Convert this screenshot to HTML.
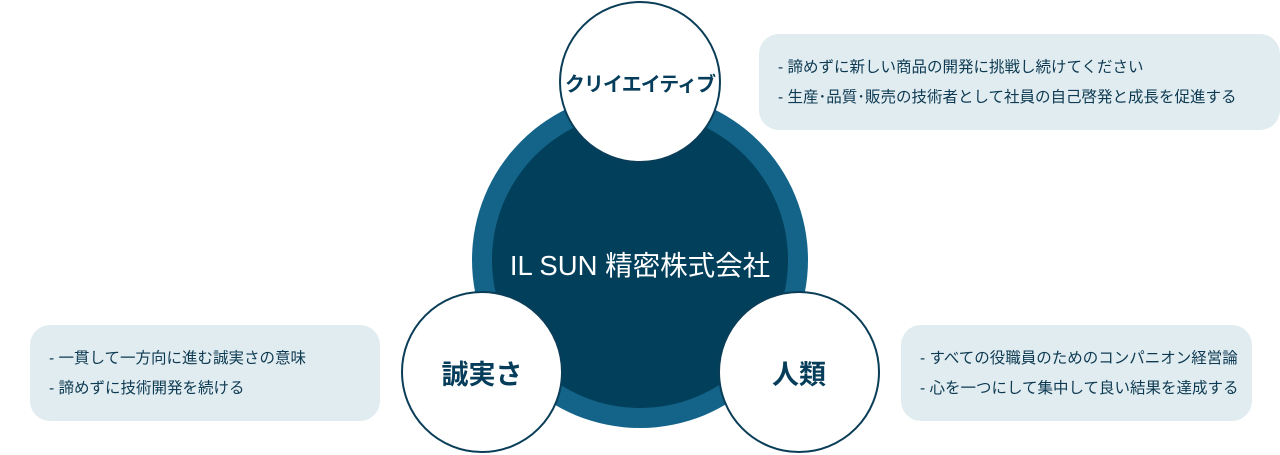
<!DOCTYPE html>
<html><head><meta charset="utf-8"><style>
body{margin:0;width:1280px;height:455px;background:#fff;position:relative;overflow:hidden;font-family:"Liberation Sans","Noto Sans CJK JP",sans-serif;}
.box{position:absolute;background:#e1ecf0;border-radius:20px;color:#0d3a52;font-size:15.5px;}
.box div{position:absolute;left:19px;white-space:nowrap;line-height:16px;}
.c{position:absolute;border-radius:50%;box-sizing:border-box;}
.w{background:#fff;border:2px solid #0a3e58;display:flex;align-items:center;justify-content:center;color:#053d5a;font-weight:bold;font-size:24px;width:162px;height:162px;white-space:nowrap;}
</style></head><body>
<div class="box" style="left:759px;top:34px;width:521px;height:96px;">
<div style="top:26px">- 諦めずに新しい商品の開発に挑戦し続けてください</div>
<div style="top:56px">- 生産･品質･販売の技術者として社員の自己啓発と成長を促進する</div></div>
<div class="box" style="left:30px;top:325px;width:350px;height:96px;">
<div style="top:26px">- 一貫して一方向に進む誠実さの意味</div>
<div style="top:56px">- 諦めずに技術開発を続ける</div></div>
<div class="box" style="left:901px;top:325px;width:351px;height:96px;">
<div style="top:26px">- すべての役職員のためのコンパニオン経営論</div>
<div style="top:56px">- 心を一つにして集中して良い結果を達成する</div></div>
<div class="c" style="left:472px;top:92px;width:336px;height:336px;background:#136488;"></div>
<div class="c" style="left:492px;top:112px;width:296px;height:296px;background:#023f5b;"></div>
<div style="position:absolute;left:440px;top:243px;width:400px;text-align:center;color:#fff;font-size:27.5px;white-space:nowrap;">IL SUN 精密株式会社</div>
<div class="c w" style="left:559px;top:1px;font-size:20px;letter-spacing:-1px;">クリイエイティブ</div>
<div class="c w" style="left:401px;top:291px;font-size:27px;">誠実さ</div>
<div class="c w" style="left:718px;top:291px;font-size:27px;">人類</div>
</body></html>
